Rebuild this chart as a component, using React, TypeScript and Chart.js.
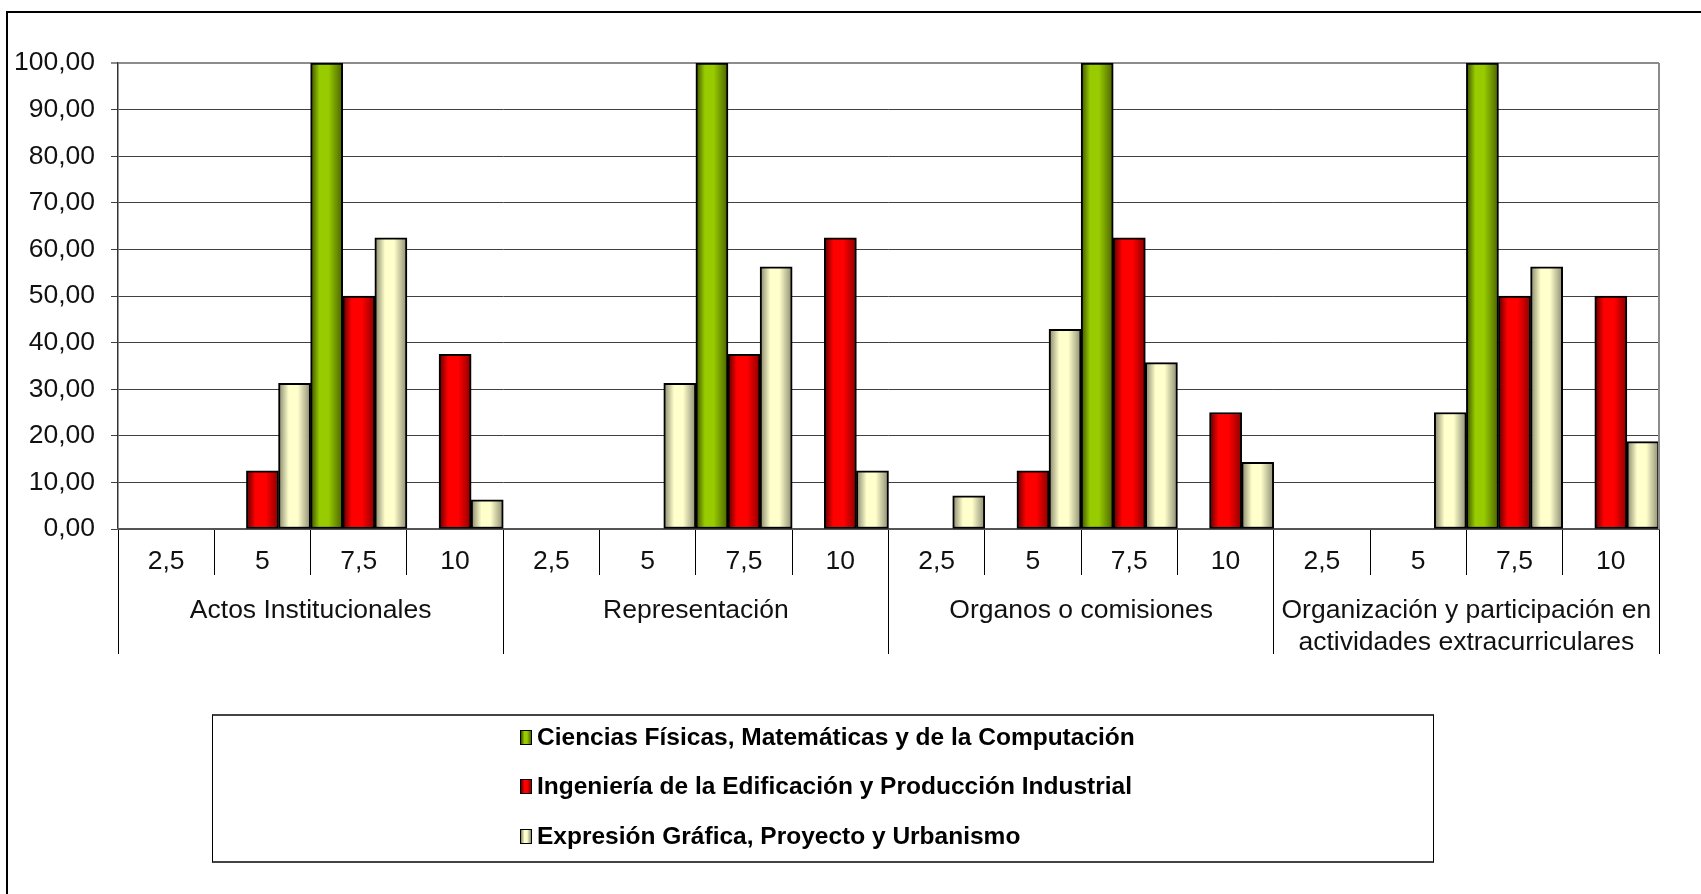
import React, { useEffect, useRef } from 'react';
import { Chart, registerables } from 'chart.js';

Chart.register(...registerables);

// ---- data ----
const scoreLabels = ['2,5', '5', '7,5', '10', '2,5', '5', '7,5', '10', '2,5', '5', '7,5', '10', '2,5', '5', '7,5', '10'];
const groupLabels: (string | string[])[] = [
  'Actos Institucionales',
  'Representación',
  'Organos o comisiones',
  ['Organización y participación en', 'actividades extracurriculares'],
];
const seriesNames = [
  'Ciencias Físicas, Matemáticas y de la Computación',
  'Ingeniería de la Edificación y Producción Industrial',
  'Expresión Gráfica, Proyecto y Urbanismo',
];
const cienciasValues = [0, 0, 100, 0, 0, 0, 100, 0, 0, 0, 100, 0, 0, 0, 100, 0];
const ingenieriaValues = [0, 12.5, 50, 37.5, 0, 0, 37.5, 62.5, 0, 12.5, 62.5, 25, 0, 0, 50, 50];
const expresionValues = [0, 31.25, 62.5, 6.25, 0, 31.25, 56.25, 12.5, 7.14, 42.86, 35.71, 14.29, 0, 25, 56.25, 18.75];
const yMin = 0;
const yMax = 100;
const yStep = 10;

// ---- styles ----
const FONT = '"Liberation Sans", Arial, sans-serif';
const solidColors = ['#99cc00', '#ff0000', '#ffffcc'];
const gradientStops: [number, string][][] = [
  [[0, '#3a4f00'], [0.28, '#99cc00'], [0.55, '#99cc00'], [1, '#4a6300']],
  [[0, '#5a0000'], [0.28, '#ff0000'], [0.6, '#ff0000'], [1, '#8a0000']],
  [[0, '#85856a'], [0.32, '#ffffcc'], [0.6, '#ffffcc'], [1, '#8c8c72']],
];

function barFill(dsIndex: number) {
  return (ctx: any) => {
    const chart = ctx.chart;
    const xs = chart.scales && chart.scales.x;
    if (!xs || ctx.dataIndex == null || !xs.width) return solidColors[dsIndex];
    const catW = xs.width / scoreLabels.length;
    const bw = catW / 3;
    const center = xs.getPixelForValue(ctx.dataIndex) + (dsIndex - 1) * bw;
    const left = center - bw / 2;
    if (!isFinite(left)) return solidColors[dsIndex];
    const g = chart.ctx.createLinearGradient(left, 0, left + bw, 0);
    gradientStops[dsIndex].forEach(([o, c]) => g.addColorStop(o, c));
    return g;
  };
}

const plotBorderPlugin = {
  id: 'plotBorder',
  afterDatasetsDraw(chart: any) {
    const { ctx, chartArea } = chart;
    ctx.save();
    ctx.strokeStyle = '#8c8c8c';
    ctx.lineWidth = 2;
    ctx.beginPath();
    ctx.moveTo(chartArea.right, chartArea.top);
    ctx.lineTo(chartArea.right, chartArea.bottom);
    ctx.stroke();
    ctx.restore();
  },
};

const legendSwatches = [
  'linear-gradient(to right, #3a4f00, #99cc00 35%, #99cc00 60%, #4a6300)',
  'linear-gradient(to right, #5a0000, #ff0000 35%, #ff0000 60%, #8a0000)',
  'linear-gradient(to right, #85856a, #ffffcc 35%, #ffffcc 60%, #8c8c72)',
];

export default function App() {
  const canvasRef = useRef<HTMLCanvasElement | null>(null);

  useEffect(() => {
    const canvas = canvasRef.current;
    if (!canvas) return;
    const values = [cienciasValues, ingenieriaValues, expresionValues];
    const chart = new Chart(canvas, {
      type: 'bar',
      data: {
        labels: scoreLabels,
        datasets: seriesNames.map((name, i) => ({
          label: name,
          data: values[i],
          backgroundColor: barFill(i),
          borderColor: '#000000',
          borderWidth: 2,
          borderSkipped: false,
          categoryPercentage: 1,
          barPercentage: 1,
        })),
      },
      options: {
        responsive: false,
        animation: false,
        events: [],
        layout: { padding: { left: 0, top: 63, right: 42, bottom: 240 } },
        plugins: {
          legend: { display: false },
          tooltip: { enabled: false },
          title: { display: false },
        },
        scales: {
          y: {
            min: yMin,
            max: yMax,
            afterFit: (s: any) => { s.width = 118; },
            ticks: {
              stepSize: yStep,
              padding: 16,
              color: '#111111',
              font: { family: FONT, size: 26.5 },
              callback: (v: any) => Number(v).toFixed(2).replace('.', ','),
            },
            grid: {
              color: (c: any) => (c.tick && c.tick.value === yMax ? '#8c8c8c' : '#404040'),
              lineWidth: (c: any) => (c.tick && c.tick.value === yMax ? 2 : 1),
              tickLength: 7,
            },
            border: { display: true, color: '#333333', width: 1.5 },
          },
          x: {
            type: 'category',
            weight: 0,
            offset: true,
            afterFit: (s: any) => { s.height = 46; },
            grid: { offset: true, drawOnChartArea: false, tickLength: 46, color: '#000000', lineWidth: 1 },
            border: { display: true, color: '#555555', width: 2 },
            ticks: {
              autoSkip: false,
              maxRotation: 0,
              minRotation: 0,
              padding: -29,
              color: '#111111',
              font: { family: FONT, size: 26.5 },
            },
          },
          x2: {
            type: 'category',
            position: 'bottom',
            weight: 1,
            labels: groupLabels as any,
            offset: true,
            afterFit: (s: any) => { s.height = 79; },
            grid: { offset: true, drawOnChartArea: false, tickLength: 79, color: '#000000', lineWidth: 1 },
            border: { display: false },
            ticks: {
              autoSkip: false,
              maxRotation: 0,
              minRotation: 0,
              padding: -59,
              color: '#111111',
              font: { family: FONT, size: 26.5, lineHeight: 1.19 },
            },
          },
        },
      } as any,
      plugins: [plotBorderPlugin],
    });
    return () => chart.destroy();
  }, []);

  const rowCenters = [21, 70, 120];

  return (
    <div style={{ position: 'fixed', left: 0, top: 0, width: 1701, height: 894, background: '#ffffff', overflow: 'hidden' }}>
      <div
        style={{
          position: 'absolute', left: 6, top: 11, width: 1720, height: 900,
          borderLeft: '2px solid #000', borderTop: '2px solid #000', boxSizing: 'border-box',
        }}
      />
      <canvas ref={canvasRef} width={1701} height={894} style={{ position: 'absolute', left: 0, top: 0, width: 1701, height: 894 }} />
      <div
        style={{
          position: 'absolute', left: 212, top: 714, width: 1222, height: 149, boxSizing: 'border-box',
          borderTop: '2px solid #444', borderBottom: '2px solid #444', borderLeft: '1px solid #000', borderRight: '1px solid #000',
          background: 'transparent',
        }}
      >
        {seriesNames.map((name, i) => (
          <div
            key={name}
            style={{
              position: 'absolute', left: 307, top: rowCenters[i] - 15, height: 30,
              display: 'flex', alignItems: 'center', whiteSpace: 'nowrap',
              fontFamily: FONT, fontWeight: 'bold', fontSize: 24.5, color: '#000',
            }}
          >
            <span
              style={{
                display: 'inline-block', width: 12, height: 15, boxSizing: 'border-box',
                border: '1.5px solid #000', background: legendSwatches[i], marginRight: 5,
              }}
            />
            <span>{name}</span>
          </div>
        ))}
      </div>
    </div>
  );
}
